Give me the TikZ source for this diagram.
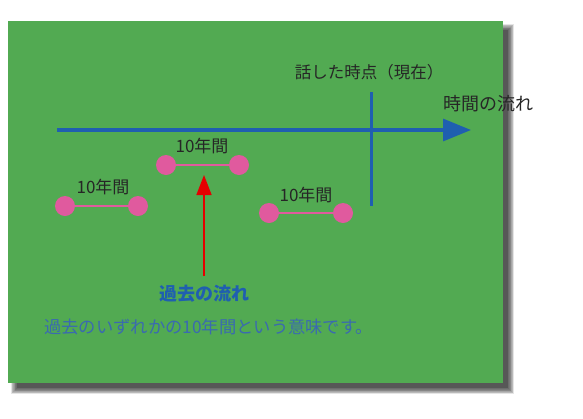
\documentclass[tikz,border=0pt]{standalone}
\usepackage{fontspec}
\setmainfont{Noto Sans CJK JP}
\usetikzlibrary{arrows.meta}
\definecolor{bggreen}{HTML}{52AA52}
\definecolor{axisblue}{HTML}{1F5FB0}
\definecolor{dotpink}{HTML}{E05A9E}
\definecolor{notegray}{HTML}{3A6AB0}
\tikzset{
  dot/.style={circle,fill=dotpink,minimum size=20pt,inner sep=0pt},
  span/.style={draw=dotpink,line width=2pt},
  lbl/.style={font=\fontsize{17}{19}\selectfont,text=black!85,inner sep=0pt},
}
\begin{document}
\begin{tikzpicture}[x=1pt,y=-1pt]
\useasboundingbox (0,0) rectangle (583,418);
% blurred shadow
\foreach \i in {0,...,9}{
  \fill[black,opacity=0.1] (8+7+\i*0.7-4,21+7+\i*0.7-4) rectangle (503+7+4-\i*0.7,383+7+4-\i*0.7);
}
\fill[bggreen] (8,21) rectangle (503,383);
% time axis
\coordinate (axs) at (57,130);
\coordinate (axe) at (471,130);
\draw[axisblue,line width=3.2pt,-{Triangle[length=28pt,width=22pt]}] (axs) -- (axe);
\coordinate (nowt) at (371,92);
\coordinate (nowb) at (371,206);
\draw[axisblue,line width=3pt] (nowt) -- (nowb);
\node[lbl,font=\fontsize{16.5}{18}\selectfont] (now) at (369,72) {話した時点（現在）};
\node[lbl,font=\fontsize{18}{20}\selectfont] (flow) at (488,104) {時間の流れ};
% spans
\node[dot] (a1) at (166,165) {};
\node[dot] (a2) at (239,165) {};
\draw[span] (a1) -- (a2);
\node[lbl] (la) at (202,146) {10年間};
\node[dot] (b1) at (65,206) {};
\node[dot] (b2) at (138,206) {};
\draw[span] (b1) -- (b2);
\node[lbl] (lb) at (103,187) {10年間};
\node[dot] (c1) at (269,213) {};
\node[dot] (c2) at (343,213) {};
\draw[span] (c1) -- (c2);
\node[lbl] (lc) at (306,195) {10年間};
% past arrow
\node[font=\fontsize{18}{20}\selectfont\bfseries,text=axisblue,inner sep=0pt] (past) at (204,294) {過去の流れ};
\coordinate (pt) at (204,175);
\coordinate (pb) at (204,276);
\draw[red!90!black,line width=1.6pt,-{Triangle[length=20pt,width=15pt]}] (pb) -- (pt);
\node[font=\fontsize{17.3}{19}\selectfont,text=notegray,inner sep=0pt,anchor=west] (note) at (44,327) {過去のいずれかの10年間という意味です。};
\end{tikzpicture}
\end{document}
